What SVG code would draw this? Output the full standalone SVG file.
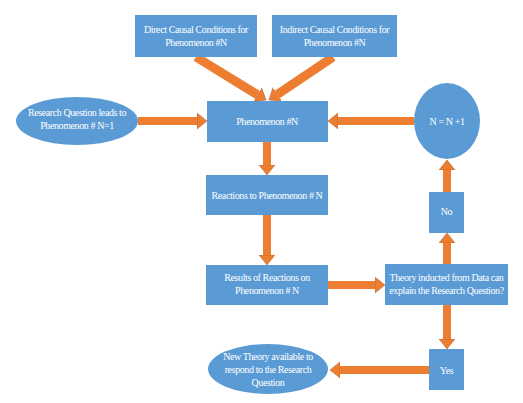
<svg xmlns="http://www.w3.org/2000/svg" width="523" height="403" viewBox="0 0 523 403">
<defs>
<style>
.box{fill:#5B9BD5;}
.t{fill:#fff;font-family:"Liberation Serif",serif;font-size:10px;text-anchor:middle;letter-spacing:-0.4px;}
.c{stroke:#ED7D31;stroke-width:8;fill:none;}
.d{stroke:#ED7D31;stroke-width:9;fill:none;}
</style>
<marker id="ah" markerUnits="userSpaceOnUse" markerWidth="12" markerHeight="18" refX="0" refY="8" orient="auto" viewBox="0 0 12 18">
<path d="M0,0 L10,8 L0,16 z" fill="#ED7D31" stroke="#B06030" stroke-width="0.5"/>
</marker>
</defs>
<rect width="523" height="403" fill="#fff"/>
<g id="connectors">
<line class="d" x1="196" y1="57" x2="257.5" y2="94.8" marker-end="url(#ah)"/>
<line class="d" x1="333" y1="57" x2="277.3" y2="94.4" marker-end="url(#ah)"/>
<line class="c" x1="138" y1="121" x2="197" y2="121" marker-end="url(#ah)"/>
<line class="c" x1="414" y1="121" x2="338" y2="121" marker-end="url(#ah)"/>
<line class="c" x1="267" y1="142" x2="267" y2="165" marker-end="url(#ah)"/>
<line class="c" x1="267" y1="215" x2="267" y2="255" marker-end="url(#ah)"/>
<line class="c" x1="328" y1="285" x2="375" y2="285" marker-end="url(#ah)"/>
<line class="c" x1="447" y1="264" x2="447" y2="243" marker-end="url(#ah)"/>
<line class="c" x1="447" y1="192" x2="447" y2="170" marker-end="url(#ah)"/>
<line class="c" x1="447" y1="305" x2="447" y2="339" marker-end="url(#ah)"/>
<line class="c" x1="429" y1="370" x2="340" y2="370" marker-end="url(#ah)"/>
</g>
<g id="direct">
<rect class="box" x="135" y="15" width="122" height="42"/>
<text class="t" x="196" y="33">Direct Causal Conditions for</text>
<text class="t" x="196" y="46">Phenomenon #N</text>
</g>
<g id="indirect">
<rect class="box" x="272" y="15" width="125" height="42"/>
<text class="t" x="334.5" y="33">Indirect Causal Conditions for</text>
<text class="t" x="334.5" y="46">Phenomenon #N</text>
</g>
<g id="research">
<ellipse class="box" cx="77" cy="121" rx="61" ry="24"/>
<text class="t" x="77" y="116">Research Question leads to</text>
<text class="t" x="77" y="129">Phenomenon # N=1</text>
</g>
<g id="phenomenon">
<rect class="box" x="207" y="101" width="121" height="41"/>
<text class="t" x="267" y="124.5">Phenomenon #N</text>
</g>
<g id="increment">
<ellipse class="box" cx="447" cy="121" rx="33" ry="38"/>
<text class="t" x="447" y="124.5">N = N +1</text>
</g>
<g id="reactions">
<rect class="box" x="206" y="175" width="122" height="40"/>
<text class="t" x="267" y="198.5">Reactions to Phenomenon # N</text>
</g>
<g id="results">
<rect class="box" x="206" y="265" width="122" height="40"/>
<text class="t" x="267" y="281">Results of Reactions on</text>
<text class="t" x="267" y="294">Phenomenon # N</text>
</g>
<g id="theory">
<rect class="box" x="385" y="264" width="123" height="41"/>
<text class="t" x="446.5" y="281">Theory inducted from Data can</text>
<text class="t" x="446.5" y="294">explain the Research Question?</text>
</g>
<g id="no">
<rect class="box" x="429" y="192" width="35" height="41"/>
<text class="t" x="446.5" y="215">No</text>
</g>
<g id="yes">
<rect class="box" x="429" y="349" width="35" height="41"/>
<text class="t" x="446.5" y="373.5">Yes</text>
</g>
<g id="newtheory">
<ellipse class="box" cx="268" cy="369" rx="60" ry="25"/>
<text class="t" x="268" y="360">New Theory available to</text>
<text class="t" x="268" y="373">respond to the Research</text>
<text class="t" x="268" y="386">Question</text>
</g>
</svg>
